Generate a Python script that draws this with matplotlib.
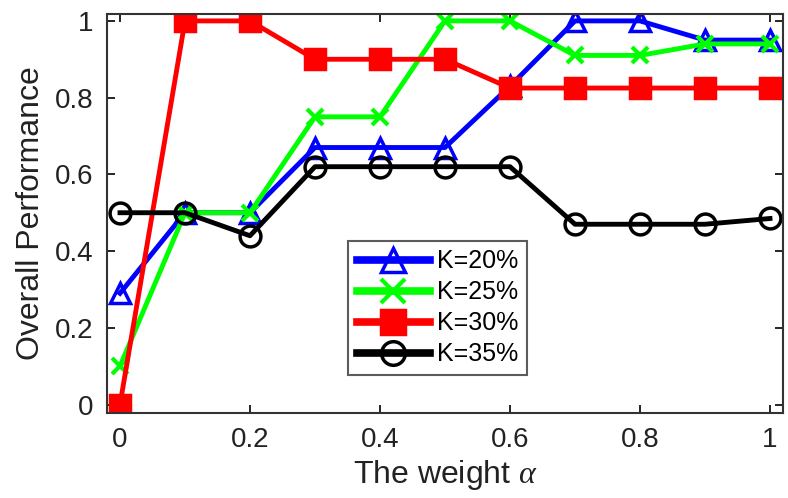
import matplotlib
matplotlib.use("Agg")
import matplotlib.pyplot as plt
import numpy as np

plt.rcParams['font.family'] = ['Liberation Sans', 'DejaVu Sans']
plt.rcParams['mathtext.fontset'] = 'custom'
plt.rcParams['mathtext.it'] = 'Liberation Serif:italic'

alpha = [0.0, 0.1, 0.2, 0.3, 0.4, 0.5, 0.6, 0.7, 0.8, 0.9, 1.0]
k20 = [0.29, 0.50, 0.50, 0.67, 0.67, 0.67, 0.83, 1.00, 1.00, 0.95, 0.95]
k25 = [0.10, 0.50, 0.50, 0.75, 0.75, 1.00, 1.00, 0.91, 0.91, 0.94, 0.94]
k30 = [0.00, 1.00, 1.00, 0.90, 0.90, 0.90, 0.825, 0.825, 0.825, 0.825, 0.825]
k35 = [0.50, 0.50, 0.44, 0.62, 0.62, 0.62, 0.62, 0.47, 0.47, 0.47, 0.485]
labels = ['K=20%', 'K=25%', 'K=30%', 'K=35%']

fig = plt.figure(figsize=(7.88, 4.98), dpi=100)
ax = fig.add_axes([107/788, 1 - 413/498, (783-107)/788, (413-14)/498])

ax.plot(alpha, k20, color='#0000ff', lw=3.5, marker='^', ms=15, mfc='none', mec='#0000ff', mew=2.5, label=labels[0])
ax.plot(alpha, k25, color='#00ff00', lw=3.5, marker='x', ms=12, mec='#00ff00', mew=3, label=labels[1])
ax.plot(alpha, k30, color='#ff0000', lw=3.5, marker='s', ms=15, mfc='#ff0000', mec='#ff0000', mew=2.5, label=labels[2])
ax.plot(alpha, k35, color='black', lw=3.5, marker='o', ms=15, mfc='none', mec='black', mew=2.5, label=labels[3])

ax.set_xlim(-0.02, 1.02)
ax.set_ylim(-0.022, 1.018)
ax.set_xticks([0, 0.2, 0.4, 0.6, 0.8, 1])
ax.set_xticklabels(['0', '0.2', '0.4', '0.6', '0.8', '1'])
ax.set_yticks([0, 0.2, 0.4, 0.6, 0.8, 1])
ax.set_yticklabels(['0', '0.2', '0.4', '0.6', '0.8', '1'])
ax.tick_params(direction='in', length=6, width=1.2, labelsize=20, top=True, right=True, pad=10,
               labelcolor='#222222')
for s in ax.spines.values():
    s.set_linewidth(1.5)
    s.set_color('#333333')

ax.set_xlabel(r'The weight $\alpha$', fontsize=23, labelpad=4, color='#222222')
ax.set_ylabel('Overall Performance', fontsize=23, labelpad=6, color='#222222')

leg = ax.legend(loc='lower left', bbox_to_anchor=(0.357, 0.095), fontsize=18,
                frameon=True, fancybox=False, edgecolor='#333333', handlelength=2.9,
                borderpad=0.35, labelspacing=0.28, handletextpad=0.3, borderaxespad=0)
leg.get_frame().set_linewidth(1.5)
for ln in leg.get_lines():
    ln.set_linewidth(5.5)
    ln.set_markersize(17)

fig.savefig('out.png', dpi=100)
